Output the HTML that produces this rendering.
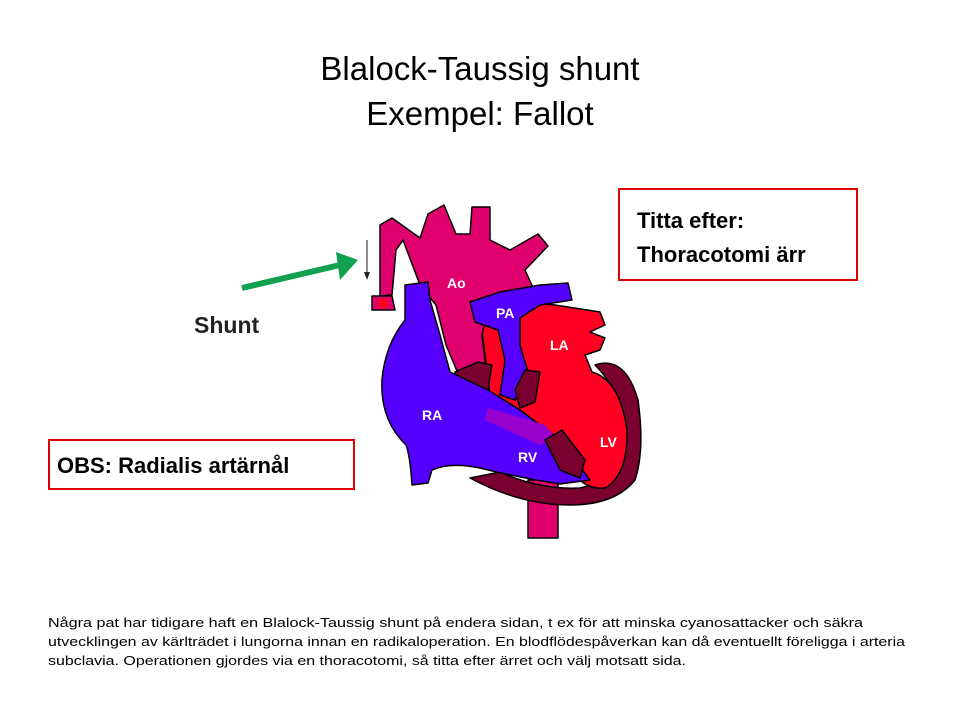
<!DOCTYPE html>
<html><head><meta charset="utf-8"><style>
body{margin:0;background:#fff;}
svg{display:block;font-family:"Liberation Sans",sans-serif;}
</style></head><body>
<svg width="960" height="720" viewBox="0 0 960 720">
<text x="480" y="80" font-size="33" text-anchor="middle" fill="#000">Blalock-Taussig shunt</text>
<text x="480" y="125" font-size="33" text-anchor="middle" fill="#000">Exempel: Fallot</text>

<g stroke="#000" stroke-width="1.5" stroke-linejoin="round">
<rect x="528" y="480" width="30" height="58" fill="#e0006e"/>
<!-- maroon outer band -->
<path d="M595,365 Q625,355 638,400 Q645,450 635,480 Q615,505 570,505 Q520,505 470,478 L500,472 Q540,490 580,488 Q620,480 625,440 Q625,395 595,365 Z" fill="#7a0030"/>
<!-- red LA/LV -->
<path d="M480,315 L520,302 L555,305 L600,312 L605,325 L590,332 L605,338 L600,350 L585,355 L592,372 Q620,380 627,430 Q628,475 605,488 Q585,490 570,470 L540,440 L505,420 L490,395 Z" fill="#ff0022"/>
<!-- aorta -->
<path d="M380,225 L392,218 L420,238 L428,214 L444,205 L456,234 L470,234 L472,207 L490,207 L490,240 L510,250 L538,234 L548,246 L525,270 L535,292 L505,292 L488,308 L482,335 L488,385 L460,378 L446,345 L436,305 L420,285 L403,240 L396,250 L392,295 L380,296 Z" fill="#e0006e"/>
<path d="M372,296 L392,296 L395,310 L372,310 Z" fill="#e0006e"/>
<rect x="378" y="299" width="10" height="9" fill="#ff0022" stroke="none"/>
<!-- PA -->
<path d="M470,302 L500,292 L540,285 L568,283 L572,300 L540,305 L520,318 L520,345 L528,372 L515,400 L500,395 L505,360 L498,330 L475,322 Z" fill="#5500ff"/>
<path d="M455,372 L478,362 L492,365 L488,390 L470,393 L455,385 Z" fill="#7a0030"/>
<path d="M515,390 L525,370 L540,372 L535,402 L520,408 Z" fill="#7a0030"/>
<!-- RA / RV blue -->
<path d="M405,285 L428,282 L430,300 L440,335 L450,372 L488,390 L520,410 L560,440 L590,480 L560,484 Q520,478 480,468 Q450,462 432,470 L428,483 L412,485 Q410,455 406,445 Q380,420 382,380 Q385,345 405,320 Z" fill="#5500ff"/>
<path d="M488,408 L545,425 L556,438 L540,445 L485,420 Z" fill="#9900cc" stroke="none"/>
<path d="M545,440 L562,430 L585,460 L580,478 L560,470 Z" fill="#7a0030"/>
</g>
<g fill="#fff" font-size="14" font-weight="bold">
<text x="447" y="288">Ao</text><text x="496" y="318">PA</text><text x="550" y="350">LA</text>
<text x="422" y="420">RA</text><text x="518" y="462">RV</text><text x="600" y="447">LV</text>
</g>
<line x1="242" y1="288" x2="340" y2="265" stroke="#10a050" stroke-width="6"/>
<path d="M358,260 L336,252 L340,280 Z" fill="#10a050"/>
<line x1="367" y1="240" x2="367" y2="278" stroke="#222" stroke-width="1"/>
<path d="M364,272 L367,280 L370,272 Z" fill="#222"/>
<text x="194" y="333" font-size="23" font-weight="bold" fill="#222">Shunt</text>

<rect x="619" y="189" width="238" height="91" fill="none" stroke="#e00000" stroke-width="2"/>
<text x="637" y="228" font-size="22" font-weight="bold">Titta efter:</text>
<text x="637" y="262" font-size="22" font-weight="bold">Thoracotomi ärr</text>
<rect x="49" y="440" width="305" height="49" fill="none" stroke="#e00000" stroke-width="2"/>
<text x="57" y="473" font-size="22" font-weight="bold">OBS: Radialis artärnål</text>

<g font-size="13" fill="#000">
<text x="48" y="627" textLength="815" lengthAdjust="spacingAndGlyphs">Några pat har tidigare haft en Blalock-Taussig shunt  på endera sidan, t ex för att minska cyanosattacker  och säkra</text>
<text x="48" y="646" textLength="857" lengthAdjust="spacingAndGlyphs">utvecklingen  av kärlträdet i lungorna  innan en radikaloperation. En blodflödespåverkan  kan då eventuellt  föreligga i arteria</text>
<text x="48" y="665" textLength="638" lengthAdjust="spacingAndGlyphs">subclavia. Operationen gjordes via en thoracotomi, så titta efter ärret och välj motsatt sida.</text>
</g>
</svg>
</body></html>
